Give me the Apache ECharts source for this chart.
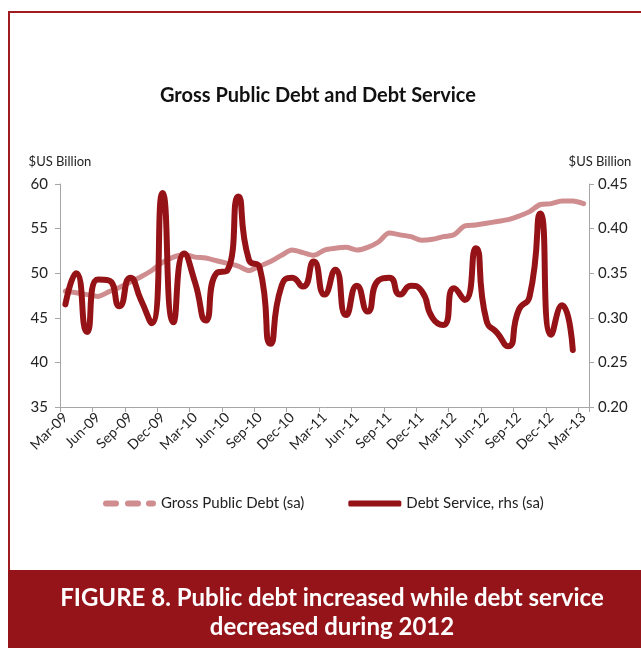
<!DOCTYPE html>
<html>
<head>
<meta charset="utf-8">
<script src="https://cdn.jsdelivr.net/npm/echarts@6/dist/echarts.min.js"></script>
<style>
html,body{margin:0;padding:0;background:#fff;}
#chart{width:641px;height:648px;}
</style>
</head>
<body>
<div id="chart"></div>
<script>
// Monthly categories Mar-09 .. Mar-13
var categories = ["Mar-09","Apr-09","May-09","Jun-09","Jul-09","Aug-09","Sep-09","Oct-09","Nov-09","Dec-09","Jan-10","Feb-10",
  "Mar-10","Apr-10","May-10","Jun-10","Jul-10","Aug-10","Sep-10","Oct-10","Nov-10","Dec-10","Jan-11","Feb-11",
  "Mar-11","Apr-11","May-11","Jun-11","Jul-11","Aug-11","Sep-11","Oct-11","Nov-11","Dec-11","Jan-12","Feb-12",
  "Mar-12","Apr-12","May-12","Jun-12","Jul-12","Aug-12","Sep-12","Oct-12","Nov-12","Dec-12","Jan-13","Feb-13","Mar-13"];

// Gross Public Debt (sa), $US billion, left axis
var grossDebt = [48.0,47.8,47.6,47.4,47.9,48.4,49.0,49.6,50.3,51.2,51.8,52.1,
  51.8,51.7,51.4,51.1,50.8,50.3,50.8,51.3,52.0,52.6,52.3,52.0,
  52.6,52.8,52.9,52.6,52.9,53.5,54.5,54.3,54.1,53.7,53.8,54.1,
  54.3,55.3,55.4,55.6,55.8,56.0,56.4,56.9,57.7,57.8,58.1,58.1,57.8];

// Debt Service, rhs (sa), $US billion, right axis
var debtService = [0.315,0.350,0.284,0.343,0.342,0.313,0.345,0.320,0.294,0.440,0.295,0.372,
  0.340,0.297,0.350,0.353,0.436,0.365,0.356,0.271,0.335,0.345,0.335,0.363,
  0.326,0.354,0.303,0.336,0.307,0.342,0.345,0.326,0.336,0.330,0.300,0.292,
  0.333,0.320,0.378,0.297,0.283,0.268,0.309,0.324,0.417,0.281,0.314,0.264];

var leftTicks = {min:35, max:60, interval:5};
var rightTicks = {min:0.20, max:0.45, interval:0.05};

var seriesNames = ["Gross Public Debt (sa)", "Debt Service, rhs (sa)"];

var FONT = "Lato, 'Open Sans', sans-serif";
var chart = echarts.init(document.getElementById('chart'), null, {renderer:'canvas'});

function dashPath(){
  // three rounded dashes, 53 x 6
  function seg(a,b){
    return 'M'+(a+3)+',0 L'+(b-3)+',0 A3,3 0 0 1 '+(b-3)+',6 L'+(a+3)+',6 A3,3 0 0 1 '+(a+3)+',0 Z ';
  }
  return 'path://' + seg(0,16) + seg(22,38) + seg(43,53);
}

var option = {
  backgroundColor:'#ffffff',
  animation:false,
  title:{
    text:'Gross Public Debt and Debt Service',
    left:313, textAlign:'center', top:81,
    textStyle:{fontFamily:FONT, fontSize:20, fontWeight:'bold', color:'#111'}
  },
  legend:{
    top:496, left:103, padding:0,
    itemGap:44, itemWidth:53, itemHeight:6,
    textStyle:{fontFamily:FONT, fontSize:15, color:'#222'},
    data:[
      {name:seriesNames[0], icon:dashPath()},
      {name:seriesNames[1], icon:'roundRect'}
    ]
  },
  grid:{left:60, right:52, top:184, bottom:241},
  xAxis:{
    type:'category',
    data:categories,
    boundaryGap:true,
    axisLine:{lineStyle:{color:'#a6a6a6', width:1}},
    axisTick:{show:true, interval:2, length:5, lineStyle:{color:'#a6a6a6'}},
    axisLabel:{interval:2, rotate:45, fontFamily:FONT, fontSize:14, color:'#222', margin:8},
    splitLine:{show:false}
  },
  yAxis:[{
    type:'value',
    min:leftTicks.min, max:leftTicks.max, interval:leftTicks.interval,
    name:'$US Billion', nameLocation:'end', nameGap:16,
    nameTextStyle:{fontFamily:FONT, fontSize:13, color:'#222', align:'center'},
    axisLine:{show:true, lineStyle:{color:'#a6a6a6'}},
    axisTick:{show:true, length:5, lineStyle:{color:'#a6a6a6'}},
    axisLabel:{fontFamily:FONT, fontSize:15, color:'#222', margin:12},
    splitLine:{show:false}
  },{
    type:'value',
    min:rightTicks.min, max:rightTicks.max, interval:rightTicks.interval,
    name:'$US Billion', nameLocation:'end', nameGap:16,
    nameTextStyle:{fontFamily:FONT, fontSize:13, color:'#222', align:'center', padding:[0,0,0,22]},
    axisLine:{show:true, lineStyle:{color:'#a6a6a6'}},
    axisTick:{show:true, length:5, lineStyle:{color:'#a6a6a6'}},
    axisLabel:{fontFamily:FONT, fontSize:15, color:'#222', margin:9,
      formatter:function(v){return v.toFixed(2);}},
    splitLine:{show:false}
  }],
  series:[{
    name:seriesNames[0], type:'line', yAxisIndex:0,
    data:grossDebt, smooth:0.3, showSymbol:false,
    lineStyle:{color:'#cf8d8f', width:5, cap:'round', join:'round'},
    itemStyle:{color:'#cf8d8f'}, z:2
  },{
    name:seriesNames[1], type:'line', yAxisIndex:1,
    data:debtService, smooth:0.6, showSymbol:false,
    lineStyle:{color:'#951317', width:6, cap:'round', join:'round'},
    itemStyle:{color:'#951317'}, z:3
  }],
  graphic:[
    {type:'rect', shape:{x:9, y:12, width:650, height:560}, style:{fill:'none', stroke:'#a01c21', lineWidth:2}, z:-1},
    {type:'rect', shape:{x:8, y:570, width:640, height:80}, style:{fill:'#95141a'}, z:10},
    {type:'text', x:332, y:598, z:11, style:{text:'FIGURE 8. Public debt increased while debt service', fill:'#ffffff',
      font:'bold 24px '+FONT, textAlign:'center', textVerticalAlign:'middle'}},
    {type:'text', x:332, y:627, z:11, style:{text:'decreased during 2012', fill:'#ffffff',
      font:'bold 24px '+FONT, textAlign:'center', textVerticalAlign:'middle'}}
  ]
};
chart.setOption(option);
</script>
</body>
</html>
